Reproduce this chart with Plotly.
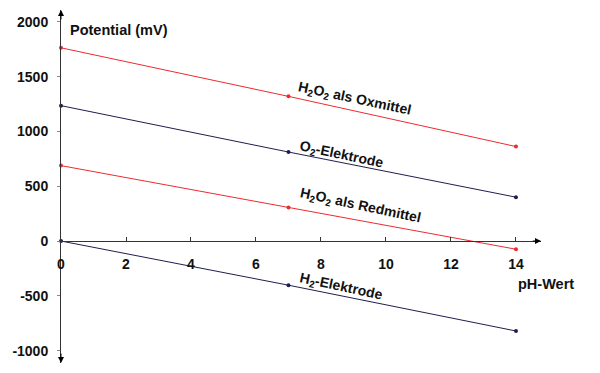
import plotly.graph_objects as go

ph = [0, 7, 14]
ox_h2o2 = [1763, 1320, 862]
o2_el = [1235, 812, 400]
red_h2o2 = [688, 305, -75]
h2_el = [0, -403, -821]

series_names = ["H<sub>2</sub>O<sub>2</sub> als Oxmittel", "O<sub>2</sub>-Elektrode",
                "H<sub>2</sub>O<sub>2</sub> als Redmittel", "H<sub>2</sub>-Elektrode"]
series_vals = [ox_h2o2, o2_el, red_h2o2, h2_el]
colors = ["#ee2a30", "#1e1e50", "#ee2a30", "#1e1e50"]
label_pos = [(9.03, 1296), (8.63, 785), (9.22, 319), (8.63, -420)]

x_ticks = [0, 2, 4, 6, 8, 10, 12, 14]
y_ticks = [-1000, -500, 0, 500, 1000, 1500, 2000]
y_tick_text = ["-1000", "-500", "0", "500", "1000", "1500", "2000"]

xmin, xmax = 0, 14.77
ymin, ymax = -1113, 2108

FONT = "Liberation Sans, Arial, sans-serif"

fig = go.Figure()
for name, vals, c in zip(series_names, series_vals, colors):
    fig.add_trace(go.Scatter(x=ph, y=vals, mode="lines+markers", name=name,
                             line=dict(color=c, width=1),
                             marker=dict(color=c, size=4),
                             cliponaxis=False, showlegend=False))

for name, (lx, ly) in zip(series_names, label_pos):
    fig.add_annotation(x=lx, y=ly, text=name, showarrow=False, textangle=12,
                       font=dict(family=FONT, size=14, color="#111", weight="bold"))

fig.add_annotation(x=0.2, y=1925, text="Potential (mV)", showarrow=False, xanchor="left",
                   font=dict(family=FONT, size=14.5, color="#111", weight="bold"))
fig.add_annotation(x=14.0, y=-392, text="pH-Wert", showarrow=False, xanchor="left",
                   font=dict(family=FONT, size=14.5, color="#111", weight="bold"))

# axis arrows
arrow = dict(showarrow=True, arrowhead=2, arrowsize=1.2, arrowwidth=1, arrowcolor="#000",
             axref="x", ayref="y", text="")
fig.add_annotation(x=xmax, y=0, ax=xmax - 0.3, ay=0, **arrow)
fig.add_annotation(x=0, y=ymax, ax=0, ay=ymax - 100, **arrow)
fig.add_annotation(x=0, y=ymin, ax=0, ay=ymin + 100, **arrow)

pos = (0 - ymin) / (ymax - ymin)

fig.update_layout(
    width=600, height=373,
    margin=dict(l=53, r=67, t=2, b=18),
    paper_bgcolor="white", plot_bgcolor="white",
    xaxis=dict(range=[xmin, xmax], tickvals=x_ticks, ticks="inside", ticklen=4,
               tickcolor="#333", showline=True, linecolor="#333", linewidth=1,
               showgrid=False, zeroline=False, anchor="free", position=pos,
               ticklabelstandoff=10, automargin=False,
               tickfont=dict(family=FONT, size=14, color="#111", weight="bold")),
    yaxis=dict(range=[ymin, ymax], tickvals=y_ticks, ticktext=y_tick_text,
               ticks="outside", ticklen=3, automargin=False,
               tickcolor="#888", showline=True, linecolor="#333", linewidth=1,
               showgrid=False, zeroline=False, ticklabelstandoff=6,
               tickfont=dict(family=FONT, size=14, color="#111", weight="bold")),
)

fig.write_html("out.html")
